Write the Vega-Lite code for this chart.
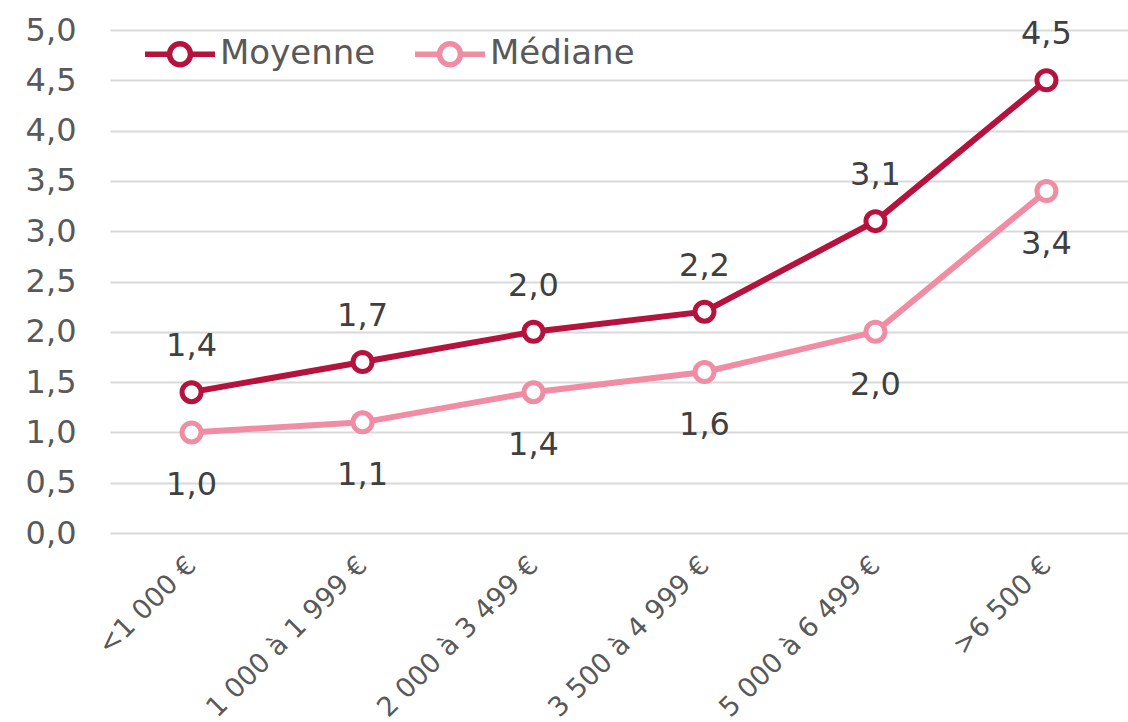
{
  "$schema": "https://vega.github.io/schema/vega-lite/v6.json",
  "width": 1018,
  "height": 503,
  "autosize": {"type": "none"},
  "padding": {"left": 110, "top": 30, "right": 0, "bottom": 189},
  "background": "white",
  "config": {
    "locale": {"number": {"decimal": ",", "thousands": " ", "grouping": [3], "currency": ["", " €"]}},
    "font": "DejaVu Sans",
    "view": {"stroke": null}
  },
  "data": {
    "values": [
      {"tranche": "<1 000 €", "serie": "Moyenne", "valeur": 1.4},
      {"tranche": "1 000 à 1 999 €", "serie": "Moyenne", "valeur": 1.7},
      {"tranche": "2 000 à 3 499 €", "serie": "Moyenne", "valeur": 2.0},
      {"tranche": "3 500 à 4 999 €", "serie": "Moyenne", "valeur": 2.2},
      {"tranche": "5 000 à 6 499 €", "serie": "Moyenne", "valeur": 3.1},
      {"tranche": ">6 500 €", "serie": "Moyenne", "valeur": 4.5},
      {"tranche": "<1 000 €", "serie": "Médiane", "valeur": 1.0},
      {"tranche": "1 000 à 1 999 €", "serie": "Médiane", "valeur": 1.1},
      {"tranche": "2 000 à 3 499 €", "serie": "Médiane", "valeur": 1.4},
      {"tranche": "3 500 à 4 999 €", "serie": "Médiane", "valeur": 1.6},
      {"tranche": "5 000 à 6 499 €", "serie": "Médiane", "valeur": 2.0},
      {"tranche": ">6 500 €", "serie": "Médiane", "valeur": 3.4}
    ]
  },
  "encoding": {
    "x": {
      "field": "tranche", "type": "ordinal", "sort": null,
      "scale": {"type": "point", "padding": 0.477},
      "axis": {
        "title": null, "domain": false, "ticks": false, "grid": false,
        "labelAngle": -45, "labelAlign": "right", "labelBaseline": "middle",
        "labelPadding": 28, "labelFontSize": 27, "labelColor": "#595959",
        "labelLimit": 0
      }
    },
    "y": {
      "field": "valeur", "type": "quantitative",
      "scale": {"domain": [0, 5], "nice": false},
      "axis": {
        "title": null, "domain": false, "ticks": false,
        "values": [0, 0.5, 1, 1.5, 2, 2.5, 3, 3.5, 4, 4.5, 5],
        "format": ".1f", "labelFontSize": 32, "labelColor": "#595959",
        "labelPadding": 34, "gridColor": "#d9d9d9", "gridWidth": 2
      }
    },
    "color": {
      "field": "serie", "type": "nominal",
      "scale": {"domain": ["Moyenne", "Médiane"], "range": ["#B5123E", "#F08CA4"]},
      "legend": {
        "title": null, "orient": "none", "direction": "horizontal",
        "legendX": 32, "legendY": -14,
        "symbolType": "M-1,0L-0.3,0M0.3,0A0.3,0.3,0,1,1,-0.3,0A0.3,0.3,0,1,1,0.3,0M0.3,0L1,0",
        "symbolSize": 4900, "symbolStrokeWidth": 5.5, "symbolFillColor": "white",
        "labelFontSize": 34, "labelColor": "#595959", "labelOffset": 2,
        "columnPadding": 28
      }
    }
  },
  "layer": [
    {"mark": {"type": "line", "strokeWidth": 6}},
    {"mark": {"type": "point", "filled": false, "fill": "white", "fillOpacity": 1, "opacity": 1, "size": 360, "strokeWidth": 5}},
    {
      "transform": [{"filter": "datum.serie === 'Moyenne'"}],
      "mark": {"type": "text", "dy": -46, "fontSize": 32},
      "encoding": {"text": {"field": "valeur", "type": "quantitative", "format": ".1f"}, "color": {"value": "#404040"}}
    },
    {
      "transform": [{"filter": "datum.serie === 'Médiane'"}],
      "mark": {"type": "text", "dy": 53, "fontSize": 32},
      "encoding": {"text": {"field": "valeur", "type": "quantitative", "format": ".1f"}, "color": {"value": "#404040"}}
    }
  ]
}
